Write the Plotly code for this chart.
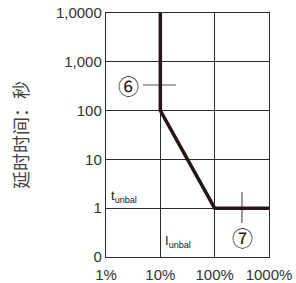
import plotly.graph_objects as go

# data
curve_x = [10, 10, 100, 1000]          # percent
curve_y = [10000, 100, 1, 1]           # seconds
x_ticks = [1, 10, 100, 1000]
x_ticktext = ["1%", "10%", "100%", "1000%"]
y_ticks = [0.1, 1, 10, 100, 1000, 10000]
y_ticktext = ["0", "1", "10", "100", "1,000", "1,0000"]
m6_x = [4.8, 19.5]
m6_y = [335, 335]
m7_x = [318, 318]
m7_y = [2.15, 0.5]

ink = "#231815"
grid = "#2f2a2a"

fig = go.Figure()
fig.add_trace(go.Scatter(x=m6_x, y=m6_y, mode="lines", line=dict(color="#555", width=1.2), hoverinfo="skip"))
fig.add_trace(go.Scatter(x=m7_x, y=m7_y, mode="lines", line=dict(color="#555", width=1.2), hoverinfo="skip"))
fig.add_trace(go.Scatter(x=curve_x, y=curve_y, mode="lines", line=dict(color=ink, width=3.5), hoverinfo="skip"))

fnt = "Liberation Sans, Arial, sans-serif"
fig.update_layout(
    width=296, height=283,
    margin=dict(l=106, r=27, t=13, b=26, autoexpand=False),
    paper_bgcolor="white", plot_bgcolor="white",
    showlegend=False,
    font=dict(family=fnt, size=15, color="#333"),
    xaxis=dict(type="log", range=[0, 3], tickvals=x_ticks, ticktext=x_ticktext,
               showgrid=True, gridcolor=grid, gridwidth=1.4,
               showline=True, linecolor=grid, linewidth=1.4, mirror=True,
               zeroline=False, ticks="", ticklabelstandoff=4, automargin=False,
               tickfont=dict(size=15, color="#333")),
    yaxis=dict(type="log", range=[-1, 4], tickvals=y_ticks, ticktext=y_ticktext,
               showgrid=True, gridcolor=grid, gridwidth=1.4,
               showline=True, linecolor=grid, linewidth=1.4, mirror=True,
               zeroline=False, ticks="", automargin=False,
               tickfont=dict(size=15, color="#333"),
               title=dict(text="延时时间：秒", font=dict(family="Noto Sans CJK SC", size=18, color="#444"), standoff=22)),
)
fig.add_annotation(x=0.405, y=2.525, xref="x", yref="y", text="⑥", showarrow=False,
                   font=dict(family="Noto Sans CJK SC", size=21, color=ink))
fig.add_annotation(x=2.51, y=-0.59, xref="x", yref="y", text="⑦", showarrow=False,
                   font=dict(family="Noto Sans CJK SC", size=21, color=ink))
fig.add_annotation(x=0.05, y=0.23, xref="x", yref="y", text="t<sub>unbal</sub>", showarrow=False,
                   xanchor="left", font=dict(family=fnt, size=13, color=ink))
fig.add_annotation(x=1.05, y=-0.69, xref="x", yref="y", text="I<sub>unbal</sub>", showarrow=False,
                   xanchor="left", font=dict(family=fnt, size=13, color=ink))

fig.write_html("out.html", config={"displayModeBar": False},
               post_script="document.body.style.margin='0px';")
